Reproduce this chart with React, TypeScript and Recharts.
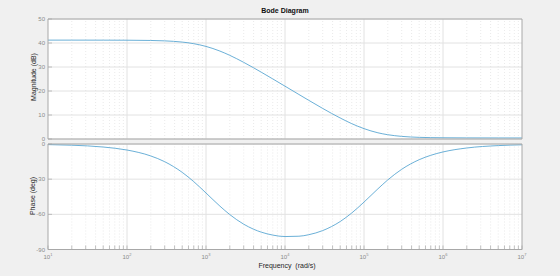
import React from 'react';
import { LineChart, Line, XAxis, YAxis, CartesianGrid, ReferenceLine } from 'recharts';

const FREQ = [10, 20, 50, 100, 200, 300, 500, 700, 1000, 1500, 2000, 3000, 4000, 5000, 7000, 1e4, 1.5e4, 2e4, 3e4, 5e4, 7e4, 1e5, 1.5e5, 2e5, 3e5, 5e5, 7e5, 1e6, 2e6, 5e6, 1e7];
const MAG = [41.2, 41.2, 41.19, 41.16, 41.06, 40.89, 40.38, 39.72, 38.58, 36.64, 34.86, 31.94, 29.67, 27.85, 25.03, 22.01, 18.55, 16.11, 12.74, 8.75, 6.39, 4.32, 2.59, 1.78, 1.09, 0.69, 0.57, 0.51, 0.46, 0.44, 0.44];
const PHASE = [-0.52, -1.03, -2.58, -5.14, -10.2, -15.1, -24.2, -32.1, -41.8, -53.0, -60.2, -68.4, -72.7, -75.2, -77.7, -78.96, -78.68, -77.39, -73.86, -66.12, -58.84, -49.56, -38.24, -30.64, -21.59, -13.37, -9.64, -6.78, -3.4, -1.36, -0.68];

const DECADES = [10, 100, 1000, 1e4, 1e5, 1e6, 1e7];
const DECADE_EXP = ['1', '2', '3', '4', '5', '6', '7'];
const MINOR = [
  20, 30, 40, 50, 60, 70, 80, 90,
  200, 300, 400, 500, 600, 700, 800, 900,
  2000, 3000, 4000, 5000, 6000, 7000, 8000, 9000,
  2e4, 3e4, 4e4, 5e4, 6e4, 7e4, 8e4, 9e4,
  2e5, 3e5, 4e5, 5e5, 6e5, 7e5, 8e5, 9e5,
  2e6, 3e6, 4e6, 5e6, 6e6, 7e6, 8e6, 9e6,
];
const ALL_X = [...DECADES, ...MINOR].sort((a, b) => a - b);
const MAG_TICKS = [0, 10, 20, 30, 40, 50];
const PHASE_TICKS = [-90, -60, -30, 0];

const magData = FREQ.map((w, i) => ({ w, v: MAG[i] }));
const phaseData = FREQ.map((w, i) => ({ w, v: PHASE[i] }));

const AXIS = '#a8a8a8';
const GRID = '#e2e2e2';
const MINOR_GRID = '#dcdcdc';
const TICK_TXT = '#8a8a8a';
const LINE = '#5aa7d3';
const FONT = '"Liberation Sans", Arial, Helvetica, sans-serif';

const XLabelTick = (props: any) => {
  const { x, y, payload } = props;
  const idx = DECADES.indexOf(payload.value);
  if (idx < 0) return null;
  return (
    <text x={x} y={y + 9} textAnchor="middle" fill={TICK_TXT} fontSize={6} fontFamily={FONT}>
      <tspan>10</tspan>
      <tspan dy={-3} fontSize={4}>{DECADE_EXP[idx]}</tspan>
    </text>
  );
};

const gridLines = () => [
  ...DECADES.slice(1, -1).map((v) => (
    <ReferenceLine key={'M' + v} x={v} stroke={GRID} strokeWidth={1} />
  )),
  ...MINOR.map((v) => (
    <ReferenceLine key={'m' + v} x={v} stroke={MINOR_GRID} strokeWidth={0.6} strokeDasharray="1 2" />
  )),
];

const xCommon = {
  type: 'number' as const,
  dataKey: 'w',
  scale: 'log' as const,
  domain: [10, 1e7],
  ticks: ALL_X,
  interval: 0 as const,
  allowDataOverflow: true,
  tickSize: -4,
  axisLine: { stroke: AXIS },
  tickLine: { stroke: AXIS, strokeWidth: 0.7 },
};

export default function App() {
  return (
    <div style={{ position: 'absolute', left: 0, top: 0, width: 560, height: 276, background: '#f0f0f0', fontFamily: FONT, overflow: 'hidden' }}>
      <div style={{ position: 'absolute', left: 0, top: 0 }}>
        <LineChart width={560} height={142} data={magData} margin={{ top: 14, right: 28, bottom: 0, left: 8 }}>
          <CartesianGrid vertical={false} stroke={GRID} fill="#ffffff" fillOpacity={1} />
          {gridLines()}
          <XAxis {...xCommon} xAxisId={0} orientation="bottom" height={3} tick={false} tickMargin={0} />
          <XAxis {...xCommon} xAxisId="top" orientation="top" height={5} tick={false} tickMargin={0} />
          <YAxis
            yAxisId={0}
            type="number"
            domain={[0, 50]}
            ticks={MAG_TICKS}
            interval={0}
            width={40}
            tickSize={-4}
            tickMargin={7}
            axisLine={{ stroke: AXIS }}
            tickLine={{ stroke: AXIS, strokeWidth: 0.7 }}
            tick={{ fill: TICK_TXT, fontSize: 6, fontFamily: FONT }}
          />
          <YAxis
            yAxisId="right"
            orientation="right"
            type="number"
            domain={[0, 50]}
            ticks={MAG_TICKS}
            interval={0}
            width={10}
            tickSize={-4}
            tick={false}
            axisLine={{ stroke: AXIS }}
            tickLine={{ stroke: AXIS, strokeWidth: 0.7 }}
          />
          <Line type="monotone" dataKey="v" stroke={LINE} strokeWidth={0.9} dot={false} isAnimationActive={false} />
        </LineChart>
      </div>
      <div style={{ position: 'absolute', left: 0, top: 0 }}>
        <LineChart width={560} height={276} data={phaseData} margin={{ top: 139, right: 28, bottom: 6.5, left: 8 }}>
          <CartesianGrid vertical={false} stroke={GRID} fill="#ffffff" fillOpacity={1} />
          {gridLines()}
          <XAxis {...xCommon} xAxisId={0} orientation="bottom" height={20} tick={<XLabelTick />} tickMargin={4} />
          <XAxis {...xCommon} xAxisId="top" orientation="top" height={5} tick={false} tickMargin={0} />
          <YAxis
            yAxisId={0}
            type="number"
            domain={[-90, 0]}
            ticks={PHASE_TICKS}
            interval={0}
            width={40}
            tickSize={-4}
            tickMargin={7}
            axisLine={{ stroke: AXIS }}
            tickLine={{ stroke: AXIS, strokeWidth: 0.7 }}
            tick={{ fill: TICK_TXT, fontSize: 6, fontFamily: FONT }}
          />
          <YAxis
            yAxisId="right"
            orientation="right"
            type="number"
            domain={[-90, 0]}
            ticks={PHASE_TICKS}
            interval={0}
            width={10}
            tickSize={-4}
            tick={false}
            axisLine={{ stroke: AXIS }}
            tickLine={{ stroke: AXIS, strokeWidth: 0.7 }}
          />
          <Line type="monotone" dataKey="v" stroke={LINE} strokeWidth={0.9} dot={false} isAnimationActive={false} />
        </LineChart>
      </div>
      <div style={{ position: 'absolute', left: 185, top: 6, width: 200, textAlign: 'center', fontSize: 7, fontWeight: 'bold', color: '#111', lineHeight: '9px' }}>
        Bode Diagram
      </div>
      <div style={{ position: 'absolute', left: 34, top: 77, width: 0, height: 0 }}>
        <div style={{ position: 'absolute', left: -60, top: -5, width: 120, textAlign: 'center', fontSize: 7, color: '#262626', lineHeight: '10px', transform: 'rotate(-90deg)' }}>
          Magnitude (dB)
        </div>
      </div>
      <div style={{ position: 'absolute', left: 33, top: 196, width: 0, height: 0 }}>
        <div style={{ position: 'absolute', left: -60, top: -5, width: 120, textAlign: 'center', fontSize: 7, color: '#262626', lineHeight: '10px', transform: 'rotate(-90deg)' }}>
          Phase (deg)
        </div>
      </div>
      <div style={{ position: 'absolute', left: 187, top: 261, width: 200, textAlign: 'center', fontSize: 7, color: '#262626', lineHeight: '10px', whiteSpace: 'pre' }}>
        {'Frequency  (rad/s)'}
      </div>
    </div>
  );
}
